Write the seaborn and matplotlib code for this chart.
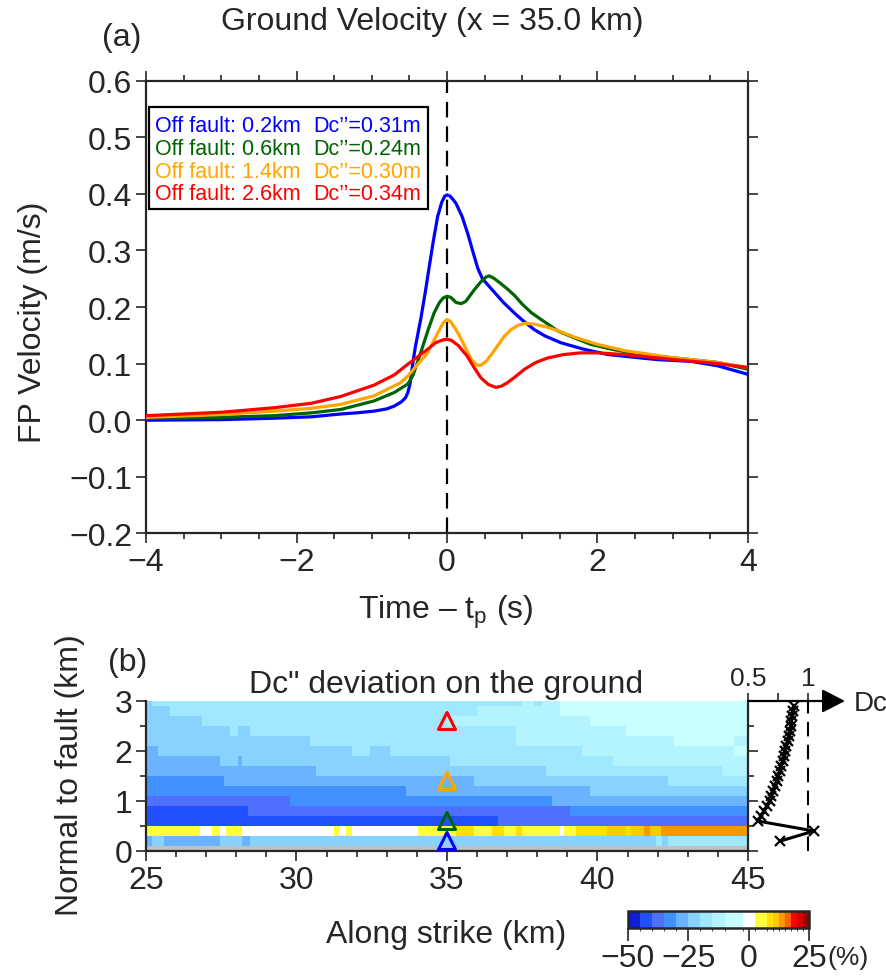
import numpy as np
import pandas as pd
import matplotlib
matplotlib.use('Agg')
import matplotlib.pyplot as plt
import seaborn as sns
from matplotlib.colors import ListedColormap, BoundaryNorm
from matplotlib.cm import ScalarMappable
from matplotlib.ticker import MultipleLocator, FuncFormatter

# ---------------- data: panel (a) ground velocity ----------------
t_blue = [-4.0, -3.0, -2.3, -1.8, -1.41, -1.2, -0.97, -0.8, -0.7, -0.6, -0.55, -0.52, -0.49, -0.46, -0.42,
          -0.35, -0.29, -0.235, -0.18, -0.124, -0.07, -0.03, 0.0, 0.04, 0.08, 0.12, 0.2, 0.275, 0.35, 0.41,
          0.47, 0.55, 0.63, 0.75, 0.89, 1.0, 1.16, 1.3, 1.51, 1.8, 2.14, 2.5, 2.8, 3.24, 3.6, 4.0]
v_blue = [0.000, 0.001, 0.0035, 0.006, 0.011, 0.013, 0.016, 0.020, 0.025, 0.033, 0.040, 0.049, 0.065, 0.096, 0.130,
          0.178, 0.225, 0.272, 0.318, 0.360, 0.385, 0.396, 0.398, 0.396, 0.390, 0.383, 0.360, 0.330, 0.295, 0.268,
          0.250, 0.238, 0.226, 0.208, 0.190, 0.177, 0.160, 0.149, 0.137, 0.126, 0.116, 0.111, 0.107, 0.104, 0.096, 0.081]

t_green = [-4.0, -3.0, -2.3, -1.8, -1.41, -0.97, -0.7, -0.52, -0.45, -0.35, -0.25, -0.17, -0.1, -0.05, 0.0,
           0.05, 0.12, 0.19, 0.25, 0.36, 0.46, 0.52, 0.56, 0.62, 0.7, 0.81, 0.9, 1.0, 1.12, 1.25, 1.47, 1.7,
           1.91, 2.2, 2.58, 3.24, 3.6, 4.0]
v_green = [0.003, 0.005, 0.008, 0.013, 0.019, 0.034, 0.049, 0.064, 0.080, 0.119, 0.160, 0.190, 0.208, 0.216, 0.219,
           0.217, 0.208, 0.206, 0.210, 0.230, 0.246, 0.253, 0.255, 0.251, 0.243, 0.231, 0.220, 0.205, 0.190, 0.178,
           0.158, 0.145, 0.134, 0.125, 0.116, 0.107, 0.102, 0.090]

t_orange = [-4.0, -3.0, -2.3, -1.8, -1.41, -0.97, -0.62, -0.52, -0.4, -0.26, -0.12, -0.05, 0.0, 0.05, 0.12,
            0.19, 0.26, 0.33, 0.4, 0.45, 0.52, 0.6, 0.67, 0.76, 0.85, 0.95, 1.03, 1.15, 1.34, 1.5, 1.69, 2.0,
            2.36, 3.02, 3.6, 4.0]
v_orange = [0.005, 0.010, 0.016, 0.021, 0.028, 0.043, 0.066, 0.078, 0.097, 0.119, 0.155, 0.172, 0.178, 0.174, 0.160,
            0.143, 0.124, 0.106, 0.097, 0.097, 0.104, 0.118, 0.131, 0.148, 0.160, 0.168, 0.171, 0.170, 0.164, 0.157,
            0.147, 0.134, 0.123, 0.110, 0.102, 0.093]

t_red = [-4.0, -3.0, -2.3, -1.8, -1.41, -0.97, -0.7, -0.52, -0.26, -0.15, -0.05, 0.0, 0.06, 0.15, 0.27, 0.36,
         0.45, 0.55, 0.65, 0.72, 0.8, 0.9, 1.03, 1.18, 1.34, 1.55, 1.78, 2.0, 2.36, 3.02, 3.6, 4.0]
v_red = [0.008, 0.014, 0.022, 0.030, 0.042, 0.062, 0.080, 0.099, 0.125, 0.137, 0.142, 0.143, 0.141, 0.132, 0.113,
         0.093, 0.075, 0.063, 0.058, 0.060, 0.066, 0.076, 0.090, 0.102, 0.110, 0.116, 0.119, 0.119, 0.116, 0.107,
         0.100, 0.093]

series_names = ['0.2', '0.6', '1.4', '2.6']
series_colors = ['#0000ff', '#006400', '#ffa500', '#ff0000']
legend_offfault = ['Off fault: 0.2km', 'Off fault: 0.6km', 'Off fault: 1.4km', 'Off fault: 2.6km']
legend_dc = ['Dc\u2019\u2019=0.31m', 'Dc\u2019\u2019=0.24m', 'Dc\u2019\u2019=0.30m', 'Dc\u2019\u2019=0.34m']

# ---------------- data: panel (b) Dc'' deviation (%) ----------------
# each row: (start of segment along strike in km, deviation in %)
row_depths = [0.2, 0.4, 0.6, 0.8, 1.0, 1.2, 1.4, 1.6, 1.8, 2.0, 2.2, 2.4, 2.6, 2.8, 3.0]
seg_0_2 = [(25.0, -27.5), (25.2, -22.5), (25.6, -27.5), (27.44, -22.5), (28.21, -27.5), (28.43, -22.5),
           (41.95, -17.5), (42.15, -22.5), (42.35, -17.5)]
seg_0_4 = [(25.0, 5), (26.8, 0), (27.2, 5), (27.43, 0), (27.63, 5), (28.2, 0), (31.25, 5), (31.42, 0),
           (31.63, 5), (31.86, 0), (34.07, 5), (35.3, 8.75), (35.9, 5), (36.5, 8.75), (36.9, 5), (37.3, 8.75),
           (37.5, 5), (38.74, 0), (38.9, 5), (39.3, 8.75), (40.3, 11.25), (40.95, 8.75), (41.12, 11.25),
           (41.56, 13.75), (41.73, 11.25), (42.12, 13.75)]
seg_0_6 = [(25.0, -42.5), (36.69, -37.5)]
seg_0_8 = [(25.0, -42.5), (28.41, -37.5), (39.12, -32.5)]
seg_1_0 = [(25.0, -37.5), (29.82, -32.5), (38.5, -27.5)]
seg_1_2 = [(25.0, -32.5), (33.64, -27.5), (39.73, -22.5)]
seg_1_4 = [(25.0, -32.5), (27.6, -27.5), (35.9, -22.5), (42.35, -17.5)]
seg_1_6 = [(25.0, -27.5), (30.65, -22.5), (38.3, -17.5), (44.16, -12.5)]
seg_1_8 = [(25.0, -27.5), (27.44, -22.5), (28.05, -27.5), (28.21, -22.5), (35.08, -17.5), (40.5, -12.5)]
seg_2_0 = [(25.0, -27.5), (25.39, -22.5), (31.87, -17.5), (32.47, -22.5), (33.08, -17.5), (39.5, -12.5), (44.55, -6)]
seg_2_2 = [(25.0, -22.5), (30.43, -17.5), (37.3, -12.5), (42.55, -6), (44.55, -12.5)]
seg_2_4 = [(25.0, -22.5), (27.82, -17.5), (28.05, -22.5), (28.43, -17.5), (37.3, -12.5), (40.95, -6)]
seg_2_6 = [(25.0, -22.5), (26.83, -17.5), (35.0, -12.5), (39.73, -6)]
seg_2_8 = [(25.0, -22.5), (25.78, -17.5), (36.0, -12.5), (38.74, -6)]
seg_3_0 = [(25.0, -22.5), (25.2, -17.5), (37.5, -12.5), (37.9, -17.5), (38.15, -12.5), (38.74, -6)]

# station triangles
tri_x = [35.0, 35.0, 35.0, 35.0]
tri_y = [0.2, 0.6, 1.4, 2.6]

# Dc profile (ratio) vs distance normal to fault
prof_km = [0.2, 0.4, 0.6, 0.7, 0.8, 0.9, 1.0, 1.1, 1.2, 1.3, 1.4, 1.5, 1.6, 1.7, 1.8, 1.9, 2.0,
           2.1, 2.2, 2.3, 2.4, 2.5, 2.6, 2.7, 2.8, 2.9]
prof_val = [0.77, 1.05, 0.58, 0.61, 0.635, 0.66, 0.68, 0.695, 0.71, 0.725, 0.74, 0.75, 0.765, 0.775,
            0.79, 0.80, 0.81, 0.82, 0.83, 0.84, 0.85, 0.855, 0.862, 0.87, 0.876, 0.882]

# color scale
cb_bounds = [-50, -45, -40, -35, -30, -25, -20, -15, -10, -2.5, 2.5, 7.5, 10, 12.5, 15, 17.5, 20, 22.5, 25]
cb_colors = ['#0f1ed2', '#2050ff', '#4f70ff', '#4090ff', '#6ab4ff', '#88d2ff', '#a0e8ff', '#b4f4ff',
             '#c8ffff', '#ffffff', '#ffff40', '#ffe000', '#ffc800', '#ff9600', '#ff6400', '#ff0000',
             '#d20000', '#a00000']
cb_ticks = [-50, -25, 0, 25]

# ---------------- style ----------------
sns.set_style('ticks')
plt.rcParams['font.family'] = ['Liberation Sans', 'DejaVu Sans']
plt.rcParams['mathtext.fontset'] = 'custom'
plt.rcParams['mathtext.rm'] = 'Liberation Sans'
plt.rcParams['mathtext.it'] = 'Liberation Sans:italic'
plt.rcParams['axes.unicode_minus'] = True

W, H = 887, 978
fig = plt.figure(figsize=(W / 100, H / 100), dpi=100)


def box(l, t, r, b):
    return [l / W, 1 - b / H, (r - l) / W, (b - t) / H]


def ftext(px, py, s, **kw):
    return fig.text(px / W, 1 - py / H, s, **kw)


def minus_fmt(fmt):
    return FuncFormatter(lambda v, p: (fmt % v).replace('-', '\u2212'))


FS = 23
SPW = 1.6

# ---------------- panel (a) ----------------
ax_a = fig.add_axes(box(146, 81.6, 748, 534.4))
frames = []
for name, tt, vv in zip(series_names, [t_blue, t_green, t_orange, t_red], [v_blue, v_green, v_orange, v_red]):
    frames.append(pd.DataFrame({'t': tt, 'v': vv, 'off': name}))
df = pd.concat(frames, ignore_index=True)
ax_a.axvline(0, color='k', lw=1.6, dashes=(7, 4), zorder=1)
sns.lineplot(data=df, x='t', y='v', hue='off', palette=dict(zip(series_names, series_colors)),
             sort=False, estimator=None, legend=False, lw=2.3, ax=ax_a, zorder=3)
ax_a.set_xlim(-4, 4)
ax_a.set_ylim(-0.2, 0.6)
ax_a.xaxis.set_major_locator(MultipleLocator(2))
ax_a.xaxis.set_minor_locator(MultipleLocator(0.5))
ax_a.xaxis.set_major_formatter(minus_fmt('%d'))
ax_a.yaxis.set_major_locator(MultipleLocator(0.1))
ax_a.yaxis.set_major_formatter(FuncFormatter(lambda v, p: ('%.1f' % (0.0 if abs(v) < 1e-9 else v)).replace('-', '\u2212')))
ax_a.tick_params(which='both', direction='out', top=True, right=True, width=1.2, labelsize=FS, pad=3)
ax_a.tick_params(which='major', length=7)
ax_a.tick_params(which='minor', length=4)
ax_a.set_xlabel('')
ax_a.set_ylabel('')
for s in ax_a.spines.values():
    s.set_linewidth(SPW)

# legend box
ax_a.add_patch(plt.Rectangle(((149 - 146) / 602, (534.4 - 210) / 452.8), (428 - 149) / 602, (210 - 108) / 452.8,
                             transform=ax_a.transAxes, fill=True, facecolor='white', edgecolor='k', lw=1.6, zorder=5))
for i, (a, b, c) in enumerate(zip(legend_offfault, legend_dc, series_colors)):
    yy = 126.5 + i * 22.8
    ftext(155, yy, a, color=c, fontsize=15.5, ha='left', va='center', zorder=6)
    ftext(313, yy, b, color=c, fontsize=15.5, ha='left', va='center', zorder=6)

ftext(432, 22, 'Ground Velocity (x = 35.0 km)', fontsize=FS, ha='center', va='center')
ftext(122, 38, '(a)', fontsize=FS, ha='center', va='center')
ftext(33, 322, 'FP Velocity (m/s)', fontsize=FS, ha='center', va='center', rotation=90)
ftext(446, 612, 'Time \u2013 t$_\\mathrm{p}$ (s)', fontsize=FS, ha='center', va='center')

# ---------------- panel (b) heatmap ----------------
ax_b = fig.add_axes(box(146, 702, 748, 852))
cmap = ListedColormap(cb_colors)
cmap.set_bad('#c0c0c0')
norm = BoundaryNorm(cb_bounds, cmap.N)

x_edges = np.round(np.arange(25.0, 45.0001, 0.05), 3)
x_cent = 0.5 * (x_edges[:-1] + x_edges[1:])
y_cent = [0.0] + row_depths
y_edges = np.array([-0.1] + [d + 0.1 for d in y_cent])
segs = [seg_0_2, seg_0_4, seg_0_6, seg_0_8, seg_1_0, seg_1_2, seg_1_4, seg_1_6, seg_1_8,
        seg_2_0, seg_2_2, seg_2_4, seg_2_6, seg_2_8, seg_3_0]
Z = np.full((len(y_cent), len(x_cent)), np.nan)
for r, seg in enumerate(segs, start=1):
    starts = np.array([s[0] for s in seg])
    vals = np.array([s[1] for s in seg])
    idx = np.searchsorted(starts, x_cent, side='right') - 1
    Z[r] = vals[np.clip(idx, 0, None)]
Zm = np.ma.masked_invalid(Z)
ax_b.pcolormesh(x_edges, y_edges, Zm, cmap=cmap, norm=norm, shading='flat')
ax_b.scatter(tri_x, tri_y, marker='^', s=150, facecolors='none', edgecolors=series_colors, linewidths=2.2, zorder=5)
ax_b.set_xlim(25, 45)
ax_b.set_ylim(0, 3)
ax_b.xaxis.set_major_locator(MultipleLocator(5))
ax_b.xaxis.set_minor_locator(MultipleLocator(1))
ax_b.yaxis.set_major_locator(MultipleLocator(1))
ax_b.yaxis.set_minor_locator(MultipleLocator(0.5))
ax_b.tick_params(which='both', direction='out', right=True, top=False, width=1.2, labelsize=FS, pad=3)
ax_b.tick_params(which='major', length=7)
ax_b.tick_params(which='minor', length=4)
ax_b.spines['top'].set_visible(False)
for k in ['left', 'right', 'bottom']:
    ax_b.spines[k].set_linewidth(SPW)

ftext(128, 663, '(b)', fontsize=FS, ha='center', va='center')
ftext(446, 685, 'Dc" deviation on the ground', fontsize=FS, ha='center', va='center')
ftext(70, 775, 'Normal to fault (km)', fontsize=FS, ha='center', va='center', rotation=90)
ftext(446, 935, 'Along strike (km)', fontsize=FS, ha='center', va='center')

# ---------------- profile panel ----------------
ax_p = fig.add_axes(box(748, 702, 826, 852))
ax_p.set_xlim(0.5, 0.5 + 78 / 120)
ax_p.set_ylim(0, 3)
ax_p.patch.set_alpha(0)
for k in ['left', 'right', 'bottom', 'top']:
    ax_p.spines[k].set_visible(False)
ax_p.axvline(1.0, color='k', lw=1.5, dashes=(7, 4))
sns.lineplot(x=prof_val, y=prof_km, sort=False, estimator=None, color='k', lw=2.2, marker='x',
             markersize=6.5, markeredgewidth=1.6, markeredgecolor='k', ax=ax_p)
ax_p.xaxis.tick_top()
ax_p.set_xticks([0.5, 0.75, 1.0])
ax_p.set_xticklabels(['0.5', '', '1'])
ax_p.set_yticks([])
ax_p.tick_params(axis='x', direction='out', length=6, width=1.2, labelsize=19, pad=2)
ax_p.annotate('', xy=(0.5 + 97 / 120, 3.0), xytext=(0.5, 3.0), xycoords='data',
              arrowprops=dict(arrowstyle='-|>,head_length=0.7,head_width=0.36', lw=1.6, color='k',
                              mutation_scale=20, shrinkA=0, shrinkB=0), annotation_clip=False)
ftext(854, 704, 'Dc', fontsize=20, ha='left', va='center')

# ---------------- colorbar ----------------
ax_cb = fig.add_axes(box(628, 912, 809, 929))
cb = fig.colorbar(ScalarMappable(norm=norm, cmap=cmap), cax=ax_cb, orientation='horizontal',
                  spacing='proportional', ticks=cb_ticks)
cb.outline.set_linewidth(1.8)
cb.ax.set_xticklabels(['\u221250', '\u221225', '0', '25'])
ax_cb.tick_params(direction='out', length=9, width=1.2, labelsize=FS, pad=2)
ftext(848, 958, '(%)', fontsize=19, ha='center', va='center')

fig.savefig('out.png', dpi=100)
